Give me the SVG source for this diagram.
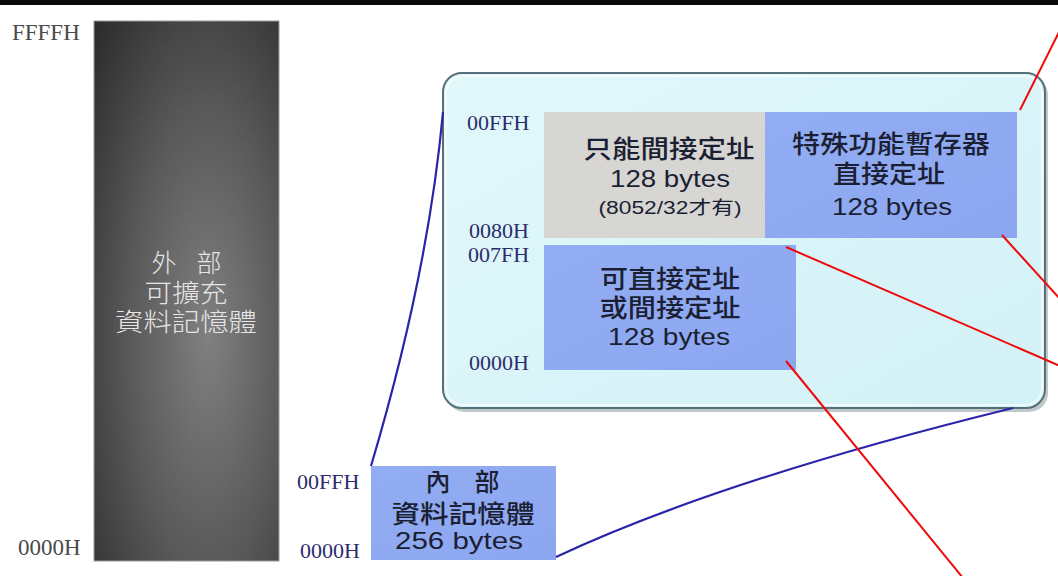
<svg xmlns="http://www.w3.org/2000/svg" width="1058" height="576" viewBox="0 0 1058 576">
  <style>
    .addr { font-family: "Liberation Serif", serif; font-size: 22px; fill: #2c2c6c; }
    .addrg { font-family: "Liberation Serif", serif; font-size: 23px; fill: #4a4a4a; }
    .cjk { font-family: "Noto Sans CJK TC", "Noto Sans", sans-serif; font-weight: 500; fill: #1b1f33; text-anchor: middle; }
    .lat { font-family: "Liberation Sans", "Noto Sans CJK TC", sans-serif; fill: #1b1f33; text-anchor: middle; }
    .ext { font-family: "Noto Sans CJK TC", sans-serif; font-weight: 300; fill: #e6e6e6; text-anchor: middle; font-size: 25px; }
    .red { stroke: #ee0a0a; stroke-width: 2; fill: none; }
    .blue { stroke: #2a24a8; stroke-width: 2.2; fill: none; }
  </style>
  <defs>
    <radialGradient id="darkGrad" cx="0.6" cy="0.6" r="0.85" fx="0.62" fy="0.58">
      <stop offset="0" stop-color="#7e7e7e"/>
      <stop offset="0.5" stop-color="#555555"/>
      <stop offset="1" stop-color="#242424"/>
    </radialGradient>
    <linearGradient id="panelGrad" x1="0" y1="0" x2="1" y2="1">
      <stop offset="0" stop-color="#e2f8fb"/>
      <stop offset="1" stop-color="#d2f1f6"/>
    </linearGradient>
    <linearGradient id="blueGrad" x1="0" y1="0" x2="1" y2="1">
      <stop offset="0" stop-color="#93adf4"/>
      <stop offset="1" stop-color="#8ca6f0"/>
    </linearGradient>
    <filter id="grain" x="0" y="0" width="100%" height="100%">
      <feTurbulence type="fractalNoise" baseFrequency="0.85" numOctaves="2" seed="4"/>
      <feColorMatrix type="saturate" values="0"/>
    </filter>
  </defs>

  <rect x="0" y="0" width="1058" height="576" fill="#ffffff"/>
  <rect x="0" y="0" width="1058" height="5" fill="#0a0a0a"/>

  <!-- External memory -->
  <g id="external-memory">
    <rect x="94" y="21" width="185" height="540" fill="url(#darkGrad)" stroke="#9a9a9a" stroke-width="1"/>
    <rect x="94" y="21" width="185" height="540" filter="url(#grain)" opacity="0.08"/>
    <text class="ext" x="164 209" y="272">外部</text>
    <text class="ext" x="186" y="302" textLength="83" lengthAdjust="spacingAndGlyphs">可擴充</text>
    <text class="ext" x="186" y="331" textLength="142" lengthAdjust="spacingAndGlyphs">資料記憶體</text>
    <text class="addrg" x="12" y="40">FFFFH</text>
    <text class="addrg" x="18" y="555">0000H</text>
  </g>

  <!-- Internal memory panel -->
  <g id="internal-panel">
    <rect x="446" y="76" width="602" height="336" rx="19" fill="#4a6068" opacity="0.35"/>
    <rect x="443" y="73" width="602" height="335" rx="19" fill="url(#panelGrad)" stroke="#56707a" stroke-width="2"/>
    <rect x="446" y="76" width="596" height="329" rx="17" fill="none" stroke="#ffffff" stroke-width="2" opacity="0.6"/>
    <text class="addr" x="467" y="130">00FFH</text>
    <text class="addr" x="469" y="238">0080H</text>
    <text class="addr" x="468" y="262">007FH</text>
    <text class="addr" x="469" y="370">0000H</text>
  </g>

  <g id="indirect-ram">
    <rect x="544" y="112" width="221" height="126" fill="#d9d8d5"/>
    <rect x="544" y="112" width="221" height="126" filter="url(#grain)" opacity="0.14"/>
    <text class="cjk" x="669" y="158" font-size="25" textLength="171" lengthAdjust="spacingAndGlyphs">只能間接定址</text>
    <text class="lat" x="670" y="187" font-size="24" textLength="120" lengthAdjust="spacingAndGlyphs">128 bytes</text>
    <text class="lat" x="670" y="214" font-size="18" textLength="143" lengthAdjust="spacingAndGlyphs">(8052/32才有)</text>
  </g>

  <g id="sfr">
    <rect x="765" y="112" width="252" height="126" fill="url(#blueGrad)"/>
    <text class="cjk" x="891" y="153" font-size="25" textLength="198" lengthAdjust="spacingAndGlyphs">特殊功能暫存器</text>
    <text class="cjk" x="889" y="183" font-size="25" textLength="112" lengthAdjust="spacingAndGlyphs">直接定址</text>
    <text class="lat" x="892" y="215" font-size="24" textLength="120" lengthAdjust="spacingAndGlyphs">128 bytes</text>
  </g>

  <g id="direct-ram">
    <rect x="544" y="245" width="252" height="125" fill="url(#blueGrad)"/>
    <text class="cjk" x="670" y="288" font-size="25" textLength="140" lengthAdjust="spacingAndGlyphs">可直接定址</text>
    <text class="cjk" x="670" y="317" font-size="25" textLength="141" lengthAdjust="spacingAndGlyphs">或間接定址</text>
    <text class="lat" x="669" y="345" font-size="24" textLength="122" lengthAdjust="spacingAndGlyphs">128 bytes</text>
  </g>

  <!-- Internal memory block -->
  <g id="internal-memory">
    <rect x="371" y="466" width="185" height="94" fill="url(#blueGrad)"/>
    <text class="cjk" x="438 487" y="491" font-size="25">內部</text>
    <text class="cjk" x="463" y="523" font-size="25" textLength="143" lengthAdjust="spacingAndGlyphs">資料記憶體</text>
    <text class="lat" x="459" y="549" font-size="24" textLength="128" lengthAdjust="spacingAndGlyphs">256 bytes</text>
    <text class="addr" x="297" y="489" font-size="23">00FFH</text>
    <text class="addr" x="300" y="558" font-size="23">0000H</text>
  </g>

  <!-- Connectors -->
  <g id="connectors">
    <path class="blue" d="M371,466 Q428,275 443,112"/>
    <path class="blue" d="M556,557 Q720,480 1013,408"/>
    <line class="red" x1="1020" y1="110" x2="1075" y2="0"/>
    <line class="red" x1="1002" y1="235" x2="1060" y2="299"/>
    <line class="red" x1="786" y1="247" x2="1060" y2="366"/>
    <line class="red" x1="786" y1="361" x2="963" y2="578"/>
  </g>
</svg>
